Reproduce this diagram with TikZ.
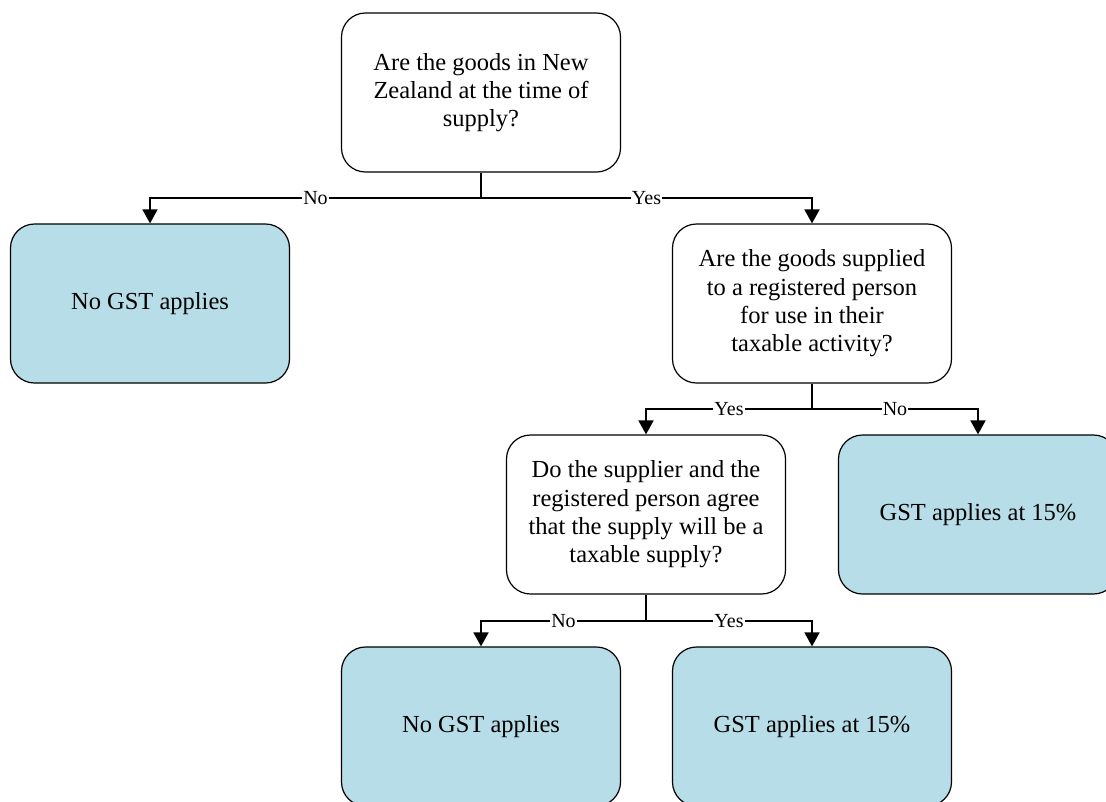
\documentclass[tikz,border=0pt]{standalone}
\usepackage{fontspec}
\setmainfont{Liberation Serif}
\usetikzlibrary{arrows.meta}
\definecolor{leaf}{HTML}{B7DEE8}
\begin{document}
\begin{tikzpicture}[x=1pt,y=-1pt,
  box/.style={draw, line width=1.2pt, rounded corners=24pt,
    minimum width=279pt, minimum height=159pt, align=center,
    font=\fontsize{24.5}{28.3}\selectfont, inner sep=0pt},
  question/.style={box, fill=white},
  outcome/.style={box, fill=leaf},
  stem/.style={line width=1.8pt},
  link/.style={line width=1.8pt, -{Triangle[length=14pt,width=15pt]}},
  tag/.style={fill=white, inner sep=1pt, font=\fontsize{20}{20}\selectfont}
]
\useasboundingbox (0,0) rectangle (1106,801);
\clip (0,0) rectangle (1106,801);

% decision and outcome boxes
\node[question] (q1) at (481,92.5) {Are the goods in New\\Zealand at the time of\\supply?};
\node[outcome]  (o1) at (150,303.5) {No GST applies};
\node[question] (q2) at (812,303.5) {Are the goods supplied\\to a registered person\\for use in their\\taxable activity?};
\node[question] (q3) at (646,514.5) {Do the supplier and the\\registered person agree\\that the supply will be a\\taxable supply?};
\node[outcome]  (o2) at (978,514.5) {GST applies at 15\%};
\node[outcome]  (o3) at (481,726.5) {No GST applies};
\node[outcome]  (o4) at (812,726.5) {GST applies at 15\%};

% branch points below each question
\coordinate (j1) at (481,198);
\coordinate (j2) at (812,409);
\coordinate (j3) at (646,621);

% connectors
\draw[stem] (q1.south) -- (j1);
\draw[link] (j1) -| node[tag, pos=0.25] {No} (o1.north);
\draw[link] (j1) -| node[tag, pos=0.25] {Yes} (q2.north);

\draw[stem] (q2.south) -- (j2);
\draw[link] (j2) -| node[tag, pos=0.25] {Yes} (q3.north);
\draw[link] (j2) -| node[tag, pos=0.25] {No} (o2.north);

\draw[stem] (q3.south) -- (j3);
\draw[link] (j3) -| node[tag, pos=0.25] {No} (o3.north);
\draw[link] (j3) -| node[tag, pos=0.25] {Yes} (o4.north);
\end{tikzpicture}
\end{document}
